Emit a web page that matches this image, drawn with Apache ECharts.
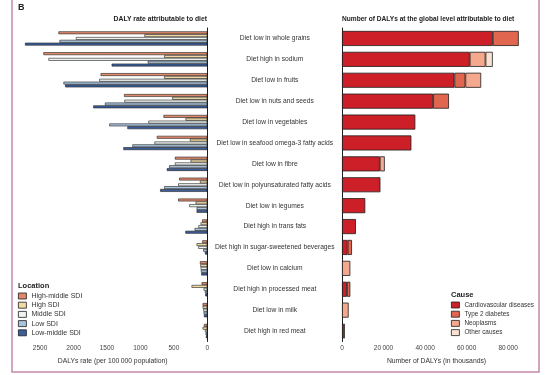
<!DOCTYPE html>
<html>
<head>
<meta charset="utf-8">
<script src="https://cdn.jsdelivr.net/npm/echarts@6/dist/echarts.min.js"></script>
<style>html,body{margin:0;padding:0;background:#fff}#main{width:551px;height:375px}</style>
</head>
<body>
<div id="main"></div>
<script>
var categories = ['Diet low in whole grains', 'Diet high in sodium', 'Diet low in fruits',
  'Diet low in nuts and seeds', 'Diet low in vegetables', 'Diet low in seafood omega-3 fatty acids',
  'Diet low in fibre', 'Diet low in polyunsaturated fatty acids', 'Diet low in legumes',
  'Diet high in trans fats', 'Diet high in sugar-sweetened beverages', 'Diet low in calcium',
  'Diet high in processed meat', 'Diet low in milk', 'Diet high in red meat'];

// DALY rate per 100 000, by SDI quintile
var highMiddle = [2225, 2450, 1595, 1245, 655, 755, 485, 420, 435, 77, 75, 110, 85, 70, 50];
var highSdi    = [940, 645, 645, 525, 325, 260, 250, 110, 175, 100, 160, 105, 235, 70, 70];
var middleSdi  = [1965, 2375, 1615, 1240, 880, 790, 485, 435, 270, 133, 135, 100, 55, 60, 35];
var lowSdi     = [2210, 890, 2150, 1530, 1465, 1120, 570, 645, 160, 190, 60, 95, 35, 55, 25];
var lowMiddle  = [2725, 1430, 2125, 1705, 1195, 1255, 605, 705, 160, 328, 35, 90, 30, 50, 20];

// global DALYs (thousands), by cause
var cvd       = [72600, 61500, 54100, 43900, 35300, 33400, 18200, 18500, 11200, 6700, 2700, 0, 2400, 0, 0];
var diabetes  = [12500, 0, 5300, 7600, 0, 0, 0, 0, 0, 0, 2100, 0, 1600, 0, 800];
var neoplasms = [0, 7600, 7600, 0, 0, 0, 2400, 0, 0, 0, 0, 4000, 0, 3200, 500];
var otherCause = [0, 3500, 0, 0, 0, 0, 0, 0, 0, 0, 0, 0, 0, 0, 0];

var rateTicks = [0, 500, 1000, 1500, 2000, 2500];
var dalyTicks = [0, 20000, 40000, 60000, 80000];

var font = 'Liberation Sans';
var edge = '#1e1e1e';

function gaps(arr) {
  return arr.map(function (v) { return v === 0 ? '-' : v; });
}
function thin(v) {
  return String(v).replace(/\B(?=(\d{3})+(?!\d))/g, '\u2009');
}

var leftSeries = [
  ['High-middle SDI', highMiddle, '#e0896a'],
  ['High SDI', highSdi, '#f2d9a4'],
  ['Middle SDI', middleSdi, '#eef3f0'],
  ['Low SDI', lowSdi, '#a9c3dc'],
  ['Low-middle SDI', lowMiddle, '#3c5f9c']
];
var rightSeries = [
  ['Cardiovascular diseases', cvd, '#cc1f27'],
  ['Type 2 diabetes', diabetes, '#e0664f'],
  ['Neoplasms', neoplasms, '#f4a98e'],
  ['Other causes', otherCause, '#fbe1d3']
];

var series = [];
leftSeries.forEach(function (s) {
  series.push({
    name: s[0], type: 'bar', xAxisIndex: 0, yAxisIndex: 0,
    data: s[1], barGap: '0%', barCategoryGap: '32%',
    itemStyle: { color: s[2], borderColor: edge, borderWidth: 0.6 },
    silent: true
  });
});
rightSeries.forEach(function (s) {
  series.push({
    name: s[0], type: 'bar', xAxisIndex: 1, yAxisIndex: 1, stack: 'cause',
    data: gaps(s[1]), barCategoryGap: '28%',
    itemStyle: { color: s[2], borderColor: edge, borderWidth: 0.8 },
    silent: true
  });
});

var headStyle = { fontSize: 6.8, fontWeight: 'bold', color: '#222', fontFamily: font };

var chart = echarts.init(document.getElementById('main'));
chart.setOption({
  animation: false,
  textStyle: { fontFamily: font },
  title: [
    { text: 'B', left: 18, top: 3, padding: 0, textStyle: { fontSize: 9, fontWeight: 'bold', color: '#222', fontFamily: font } },
    { text: 'DALY rate attributable to diet', right: 344, top: 16, padding: 0, textStyle: headStyle },
    { text: 'Number of DALYs at the global level attributable to diet', left: 342, top: 16, padding: 0, textStyle: { fontSize: 6.6, fontWeight: 'bold', color: '#222', fontFamily: font } },
    { text: 'Location', left: 18, top: 282, padding: 0, textStyle: { fontSize: 7.5, fontWeight: 'bold', color: '#222', fontFamily: font } },
    { text: 'Cause', left: 451, top: 291, padding: 0, textStyle: { fontSize: 7.5, fontWeight: 'bold', color: '#222', fontFamily: font } }
  ],
  legend: [
    {
      data: leftSeries.map(function (s) { return s[0]; }),
      orient: 'vertical', left: 18, top: 291.5, padding: 0,
      itemWidth: 8, itemHeight: 6, itemGap: 0.2, icon: 'rect',
      itemStyle: { borderColor: edge, borderWidth: 0.8 },
      textStyle: { fontSize: 7, lineHeight: 9, color: '#333', fontFamily: font }
    },
    {
      data: rightSeries.map(function (s) { return s[0]; }),
      orient: 'vertical', left: 451, top: 300.5, padding: 0,
      itemWidth: 8, itemHeight: 6, itemGap: 0.2, icon: 'rect',
      itemStyle: { borderColor: edge, borderWidth: 0.8 },
      textStyle: { fontSize: 6.4, lineHeight: 9, color: '#333', fontFamily: font }
    }
  ],
  grid: [
    { left: 18, top: 28, width: 189.3, height: 313.5 },
    { left: 342, top: 28, width: 189, height: 313.5 }
  ],
  xAxis: [
    {
      gridIndex: 0, type: 'value', inverse: true, min: 0, max: 2830,
      name: 'DALYs rate (per 100\u2009000 population)', nameLocation: 'middle', nameGap: 16.5,
      nameTextStyle: { fontSize: 6.8, color: '#333', fontFamily: font },
      axisLine: { lineStyle: { color: edge, width: 1 } },
      axisTick: { length: 2.5, customValues: rateTicks, lineStyle: { color: edge } },
      axisLabel: { fontSize: 6.5, color: '#444', margin: 3, customValues: rateTicks, formatter: String, fontFamily: font },
      splitLine: { show: false }
    },
    {
      gridIndex: 1, type: 'value', min: 0, max: 91000,
      name: 'Number of DALYs (in thousands)', nameLocation: 'middle', nameGap: 16.5,
      nameTextStyle: { fontSize: 6.8, color: '#333', fontFamily: font },
      axisLine: { lineStyle: { color: edge, width: 1 } },
      axisTick: { length: 2.5, customValues: dalyTicks, lineStyle: { color: edge } },
      axisLabel: { fontSize: 6.5, color: '#444', margin: 3, customValues: dalyTicks, formatter: thin, fontFamily: font },
      splitLine: { show: false }
    }
  ],
  yAxis: [
    {
      gridIndex: 0, type: 'category', data: categories, inverse: true, position: 'right',
      axisLine: { lineStyle: { color: edge, width: 1 } },
      axisTick: { length: 3, lineStyle: { color: edge } },
      axisLabel: { align: 'center', margin: 67.5, fontSize: 6.7, color: '#333', fontFamily: font }
    },
    {
      gridIndex: 1, type: 'category', data: categories, inverse: true, position: 'left',
      axisLine: { lineStyle: { color: edge, width: 1 } },
      axisTick: { length: 3, lineStyle: { color: edge } },
      axisLabel: { show: false }
    }
  ],
  graphic: [
    {
      type: 'rect', silent: true,
      shape: { x: 12, y: -5, width: 527, height: 377 },
      style: { fill: 'none', stroke: '#c48aa8', lineWidth: 1.5 }
    }
  ],
  series: series
});
</script>
</body>
</html>
